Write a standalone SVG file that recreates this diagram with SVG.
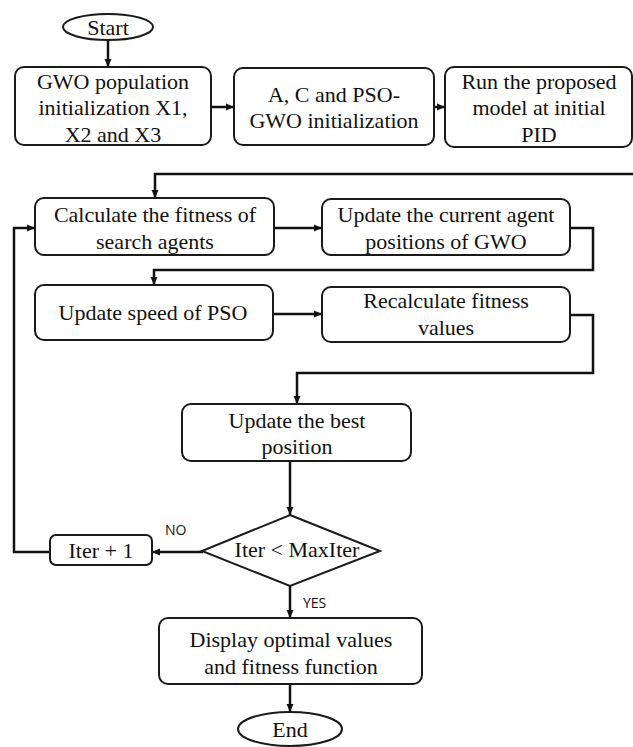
<svg xmlns="http://www.w3.org/2000/svg" width="633" height="747" viewBox="0 0 633 747">
<style>
.box{fill:#fff;stroke:#1a1a1a;stroke-width:2}
.t{font-family:"Liberation Serif","Times New Roman",serif;font-size:22px;fill:#111;text-anchor:middle}
.lbl{font-family:"Open Sans","Liberation Sans",sans-serif;font-size:14px;fill:#111}
.c{fill:none;stroke:#111;stroke-width:2.5}
</style>
<defs>
<marker id="ah" markerUnits="userSpaceOnUse" markerWidth="8" markerHeight="8" viewBox="0 0 8 8" refX="8" refY="4" orient="auto">
<path d="M0,0.5 L8,4 L0,7.5 Z" fill="#111"/>
</marker>
</defs>
<g id="connectors">
<path class="c" d="M108,40 V67" marker-end="url(#ah)"/>
<path class="c" d="M211,107 H234" marker-end="url(#ah)"/>
<path class="c" d="M434,107 H445" marker-end="url(#ah)"/>
<path class="c" d="M633,174 H155 V198" marker-end="url(#ah)"/>
<path class="c" d="M274,228 H322" marker-end="url(#ah)"/>
<path class="c" d="M570,228 H593 V270 H154 V285" marker-end="url(#ah)"/>
<path class="c" d="M273,314 H322" marker-end="url(#ah)"/>
<path class="c" d="M570,315 H593 V373 H297 V404" marker-end="url(#ah)"/>
<path class="c" d="M290,461 V515" marker-end="url(#ah)"/>
<path class="c" d="M203,552 H152" marker-end="url(#ah)"/>
<path class="c" d="M50,552 H14 V228 H35" marker-end="url(#ah)"/>
<path class="c" d="M290,586 V618" marker-end="url(#ah)"/>
<path class="c" d="M290,684 V712" marker-end="url(#ah)"/>
</g>
<g id="start">
<ellipse class="box" cx="108" cy="27" rx="45" ry="13"/>
<text class="t" x="108" y="35">Start</text>
</g>
<g id="gwo-init">
<rect class="box" x="15" y="67" width="196" height="78" rx="9"/>
<text class="t" x="113" y="89">GWO population</text>
<text class="t" x="113" y="115">initialization X1,</text>
<text class="t" x="113" y="142">X2 and X3</text>
</g>
<g id="ac-init">
<rect class="box" x="234" y="68" width="200" height="77" rx="9"/>
<text class="t" x="334" y="102">A, C and PSO-</text>
<text class="t" x="334" y="128">GWO initialization</text>
</g>
<g id="run-model">
<rect class="box" x="445" y="67" width="187" height="80" rx="9"/>
<text class="t" x="539" y="89">Run the proposed</text>
<text class="t" x="539" y="115">model at initial</text>
<text class="t" x="539" y="142">PID</text>
</g>
<g id="calc-fitness">
<rect class="box" x="35" y="198" width="239" height="57" rx="9"/>
<text class="t" x="155" y="222">Calculate the fitness of</text>
<text class="t" x="155" y="249">search agents</text>
</g>
<g id="update-gwo">
<rect class="box" x="322" y="199" width="248" height="56" rx="9"/>
<text class="t" x="446" y="222">Update the current agent</text>
<text class="t" x="446" y="249">positions of GWO</text>
</g>
<g id="update-pso">
<rect class="box" x="35" y="285" width="238" height="55" rx="9"/>
<text class="t" x="153" y="320">Update speed of PSO</text>
</g>
<g id="recalc">
<rect class="box" x="322" y="287" width="248" height="55" rx="9"/>
<text class="t" x="446" y="308">Recalculate fitness</text>
<text class="t" x="446" y="335">values</text>
</g>
<g id="best">
<rect class="box" x="182" y="404" width="229" height="57" rx="9"/>
<text class="t" x="297" y="428">Update the best</text>
<text class="t" x="297" y="454">position</text>
</g>
<g id="decision">
<polygon class="box" points="290,515 380,551 290,586 202,551"/>
<text class="t" x="297" y="557">Iter &lt; MaxIter</text>
</g>
<g id="iter">
<rect class="box" x="50" y="535" width="102" height="30" rx="6"/>
<text class="t" x="101" y="558">Iter + 1</text>
</g>
<g id="display">
<rect class="box" x="159" y="618" width="263" height="66" rx="9"/>
<text class="t" x="291" y="647">Display optimal values</text>
<text class="t" x="291" y="674">and fitness function</text>
</g>
<g id="end">
<ellipse class="box" cx="290" cy="729" rx="52" ry="17"/>
<text class="t" x="290" y="737">End</text>
</g>
<g id="labels">
<text class="lbl" x="165" y="535">NO</text>
<text class="lbl" x="303" y="608">YES</text>
</g>
</svg>
